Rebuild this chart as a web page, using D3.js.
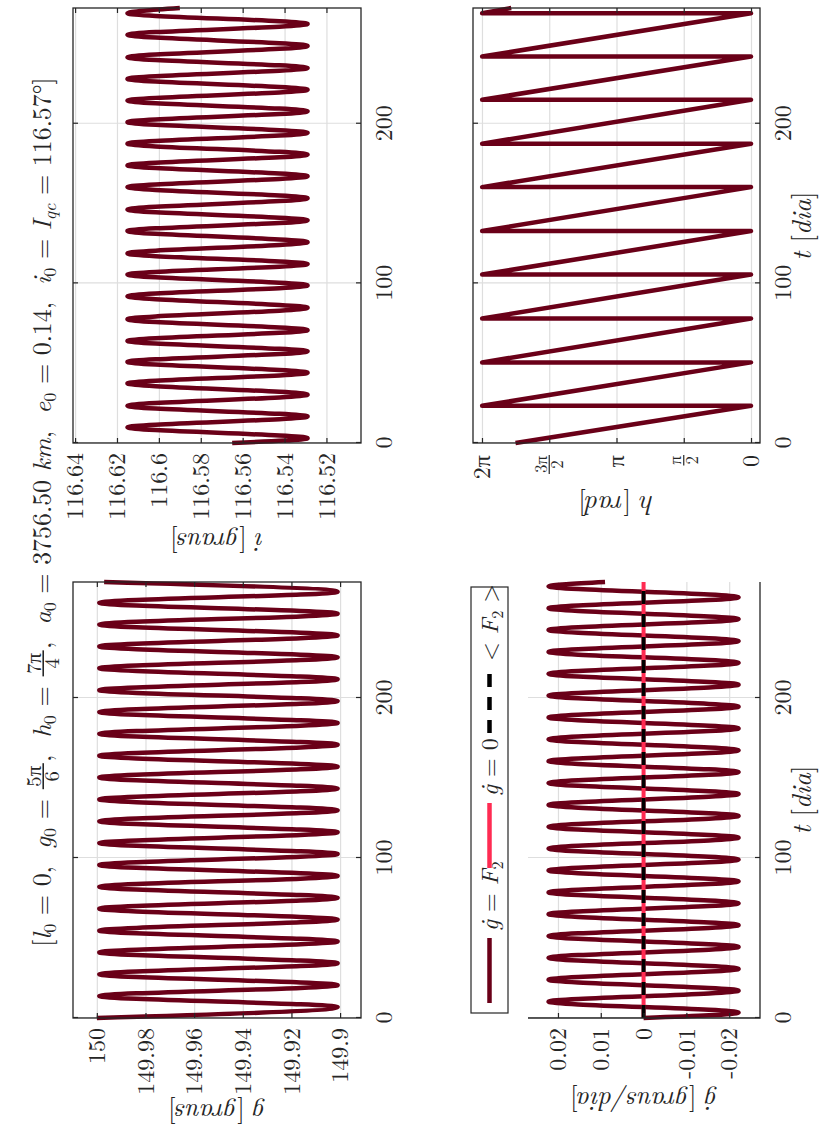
<!DOCTYPE html>
<html>
<head>
<meta charset="utf-8">
<script src="https://cdn.jsdelivr.net/npm/d3@7.9.0/dist/d3.min.js"></script>
<style>
  body { margin: 0; background: #fff; }
  svg { display: block; }
</style>
</head>
<body>
<svg id="chart" width="830" height="1133"></svg>
<script>
// The figure is laid out landscape (1133 x 830) and then turned a quarter turn
// counter-clockwise, the way the original page was saved.

// ---- time axis ----
const tDomain = [0, 272.5];
const tTicks = [0, 100, 200];

// ---- g [graus] : turning points ----
const gT = [0, 6.8, 13.7, 20.5, 27.3, 34.2, 41.0, 47.8, 54.6, 61.5,
  68.3, 75.1, 82.0, 88.8, 95.6, 102.5, 109.3, 116.1, 122.9, 129.8,
  136.6, 143.4, 150.3, 157.1, 163.9, 170.8, 177.6, 184.4, 191.2, 198.1,
  204.9, 211.7, 218.6, 225.4, 232.2, 239.1, 245.9, 252.7, 259.5, 266.4, 272.5];
const gV = [150.0, 149.901, 149.999, 149.901, 149.999, 149.901, 149.999, 149.901, 149.999, 149.901,
  149.999, 149.901, 149.999, 149.901, 149.999, 149.901, 149.999, 149.901, 149.999, 149.901,
  149.999, 149.901, 149.999, 149.901, 149.999, 149.901, 149.999, 149.901, 149.999, 149.901,
  149.999, 149.901, 149.999, 149.901, 149.999, 149.901, 149.999, 149.901, 149.999, 149.901, 149.997];
const gDomain = [149.8914, 150.0098];
const gTicks = [149.9, 149.92, 149.94, 149.96, 149.98, 150];
const gTickLabels = ["149.9", "149.92", "149.94", "149.96", "149.98", "150"];

// ---- i [graus] ----
const iT = [0, 3.0, 9.8, 16.6, 23.3, 30.3, 37.3, 44.0, 50.8, 57.4,
  63.9, 70.7, 77.5, 84.7, 91.9, 98.7, 105.5, 112.1, 118.7, 125.8,
  132.8, 139.5, 146.2, 153.3, 160.3, 167.1, 173.9, 180.7, 187.5, 194.3,
  201.0, 207.8, 214.5, 221.3, 228.1, 234.9, 241.6, 248.7, 255.7, 262.5, 269.2, 272.5];
const iV = [116.565, 116.529, 116.615, 116.529, 116.615, 116.529, 116.615, 116.529, 116.615, 116.529,
  116.615, 116.529, 116.615, 116.529, 116.615, 116.529, 116.615, 116.529, 116.615, 116.529,
  116.615, 116.529, 116.615, 116.529, 116.615, 116.529, 116.615, 116.529, 116.615, 116.529,
  116.615, 116.529, 116.615, 116.529, 116.615, 116.529, 116.615, 116.529, 116.615, 116.529, 116.615, 116.59];
const iDomain = [116.5035, 116.641];
const iTicks = [116.52, 116.54, 116.56, 116.58, 116.6, 116.62, 116.64];
const iTickLabels = ["116.52", "116.54", "116.56", "116.58", "116.6", "116.62", "116.64"];

// ---- g-dot [graus/dia] ----
const gdT = [0, 3.4, 10.2, 17.1, 23.9, 30.7, 37.6, 44.4, 51.2, 58.0,
  64.9, 71.7, 78.5, 85.4, 92.2, 99.0, 105.9, 112.7, 119.5, 126.3,
  133.2, 140.0, 146.8, 153.7, 160.5, 167.3, 174.2, 181.0, 187.8, 194.6,
  201.5, 208.3, 215.1, 222.0, 228.8, 235.6, 242.5, 249.3, 256.1, 262.9, 269.8, 272.5];
const gdV = [0, -0.0222, 0.0222, -0.0222, 0.0222, -0.0222, 0.0222, -0.0222, 0.0222, -0.0222,
  0.0222, -0.0222, 0.0222, -0.0222, 0.0222, -0.0222, 0.0222, -0.0222, 0.0222, -0.0222,
  0.0222, -0.0222, 0.0222, -0.0222, 0.0222, -0.0222, 0.0222, -0.0222, 0.0222, -0.0222,
  0.0222, -0.0222, 0.0222, -0.0222, 0.0222, -0.0222, 0.0222, -0.0222, 0.0222, -0.0222, 0.0222, 0.009];
const zeroT = [0, 272.5];
const zeroV = [0, 0];
const meanF2V = [0, 0];
const gdDomain = [-0.0272, 0.0270];
const gdTicks = [-0.02, -0.01, 0, 0.01, 0.02];
const gdTickLabels = ["-0.02", "-0.01", "0", "0.01", "0.02"];

// ---- h [rad] (wraps at 0 -> 2pi) ----
const hT = [0, 23.3, 23.3, 50.5, 50.5, 78.0, 78.0, 105.5, 105.5, 132.8, 132.8,
  160.3, 160.3, 187.5, 187.5, 215.0, 215.0, 242.1, 242.1, 269.2, 269.2, 272.5];
const hV = [5.50, 0, 6.28, 0, 6.28, 0, 6.28, 0, 6.28, 0, 6.28,
  0, 6.28, 0, 6.28, 0, 6.28, 0, 6.28, 0, 6.28, 5.6];
const hDomain = [-0.21, 6.493];
const hTicks = [0, 1.5708, 3.1416, 4.7124, 6.2832];
const hTickLabels = ["0", "π/2", "π", "3π/2", "2π"];

// ---- styling ----
const FONT = '"Latin Modern Roman", "Liberation Serif", serif';
const C_CURVE = "#6a0018";
const C_ZERO = "#ff2b52";
const C_AXIS = "#262626";
const C_GRID = "#dedede";
const TICK_FS = 24;
const LABEL_FS = 27;

const svg = d3.select("#chart");
const fig = svg.append("g")
  .attr("transform", "translate(0,1133) rotate(-90)")
  .style("font-family", FONT)
  .style("fill", C_AXIS);

const layout = {
  g:  { left: 115, right: 551, top: 73,  bottom: 361, box: true },
  i:  { left: 690, right: 1125, top: 73, bottom: 361, box: true },
  gd: { left: 115, right: 551, top: 528, bottom: 760, box: false },
  h:  { left: 690, right: 1125, top: 473, bottom: 760, box: true },
};

function makePanel(L, yDomain, yTicks) {
  const x = d3.scaleLinear().domain(tDomain).range([L.left, L.right]);
  const y = d3.scaleLinear().domain(yDomain).range([L.bottom, L.top]);
  const w = L.right - L.left, h = L.bottom - L.top;
  const g = fig.append("g");

  g.append("g").attr("class", "grid").attr("transform", `translate(0,${L.bottom})`)
    .call(d3.axisBottom(x).tickValues(tTicks).tickSize(-h).tickFormat(""))
    .call((s) => s.select(".domain").remove());
  g.append("g").attr("class", "grid").attr("transform", `translate(${L.left},0)`)
    .call(d3.axisLeft(y).tickValues(yTicks).tickSize(-w).tickFormat(""))
    .call((s) => s.select(".domain").remove());
  g.selectAll(".grid line").attr("stroke", C_GRID).attr("stroke-width", 1.2);

  const plot = g.append("g");
  const axes = g.append("g").style("color", C_AXIS);
  return { x, y, plot, axes, L, yTicks };
}

function finishAxes(P, yFormat) {
  const { x, y, axes, L } = P;
  const fix = (s) => {
    s.attr("font-size", TICK_FS).attr("font-family", null).style("font-family", FONT);
    s.select(".domain").remove();
    s.selectAll(".tick line").attr("stroke-width", 1.2);
  };
  axes.append("g").attr("transform", `translate(0,${L.bottom})`)
    .call(d3.axisBottom(x).tickValues(tTicks).tickSizeInner(-5).tickSizeOuter(0)
      .tickPadding(14).tickFormat(d3.format("d")))
    .call(fix);
  axes.append("g").attr("transform", `translate(${L.left},0)`)
    .call(d3.axisLeft(y).tickValues(P.yTicks).tickSizeInner(-5).tickSizeOuter(0)
      .tickPadding(10).tickFormat(yFormat))
    .call(fix);

  if (L.box) {
    axes.append("g").attr("transform", `translate(0,${L.top})`)
      .call(d3.axisTop(x).tickValues(tTicks).tickSizeInner(-5).tickSizeOuter(0).tickFormat(""))
      .call(fix);
    axes.append("g").attr("transform", `translate(${L.right},0)`)
      .call(d3.axisRight(y).tickValues(P.yTicks).tickSizeInner(-5).tickSizeOuter(0).tickFormat(""))
      .call(fix);
    axes.append("rect")
      .attr("x", L.left).attr("y", L.top)
      .attr("width", L.right - L.left).attr("height", L.bottom - L.top)
      .attr("fill", "none").attr("stroke", C_AXIS).attr("stroke-width", 1.3);
  } else {
    axes.append("path")
      .attr("d", `M${L.left},${L.top}V${L.bottom}H${L.right}`)
      .attr("fill", "none").attr("stroke", C_AXIS).attr("stroke-width", 1.3);
  }
}

function drawSeries(P, ts, vs, color, opts = {}) {
  const line = d3.line()
    .x((d) => P.x(d[0]))
    .y((d) => P.y(d[1]))
    .curve(opts.linear ? d3.curveLinear : d3.curveMonotoneX);
  P.plot.append("path")
    .datum(d3.zip(ts, vs))
    .attr("d", line)
    .attr("fill", "none")
    .attr("stroke", color)
    .attr("stroke-width", opts.width || 4.5)
    .attr("stroke-linejoin", "round")
    .attr("stroke-dasharray", opts.dash || null);
}

// rotated y label / horizontal x label made of [text, italic] pieces
function label(x, y, parts, rotate) {
  const t = fig.append("text")
    .attr("transform", `translate(${x},${y})${rotate ? " rotate(-90)" : ""}`)
    .attr("text-anchor", "middle")
    .attr("font-size", LABEL_FS)
    .style("white-space", "pre");
  parts.forEach(([s, it]) => t.append("tspan").attr("font-style", it ? "italic" : "normal").text(s));
}

// ---- panels ----
const pG = makePanel(layout.g, gDomain, gTicks);
drawSeries(pG, gT, gV, C_CURVE);
finishAxes(pG, (d, i) => gTickLabels[i]);

const pI = makePanel(layout.i, iDomain, iTicks);
drawSeries(pI, iT, iV, C_CURVE);
finishAxes(pI, (d, i) => iTickLabels[i]);

const pGd = makePanel(layout.gd, gdDomain, gdTicks);
drawSeries(pGd, gdT, gdV, C_CURVE);
drawSeries(pGd, zeroT, zeroV, C_ZERO, { linear: true, width: 4 });
drawSeries(pGd, zeroT, meanF2V, "#000", { linear: true, width: 4, dash: "13,10" });
finishAxes(pGd, (d, i) => gdTickLabels[i]);

const pH = makePanel(layout.h, hDomain, hTicks);
drawSeries(pH, hT, hV, C_CURVE, { linear: true });
finishAxes(pH, "");

// h tick labels: plain or small stacked fractions
hTicks.forEach((v, i) => {
  const lab = hTickLabels[i];
  const yy = pH.y(v);
  const xr = layout.h.left - 12;
  if (lab.includes("/")) {
    const [num, den] = lab.split("/");
    const f = 17;
    const n = fig.append("text").attr("font-size", f).attr("text-anchor", "middle").text(num);
    const d = fig.append("text").attr("font-size", f).attr("text-anchor", "middle").text(den);
    const w = Math.max(n.node().getComputedTextLength(), d.node().getComputedTextLength()) + 2;
    n.attr("x", xr - w / 2).attr("y", yy - 2.5);
    d.attr("x", xr - w / 2).attr("y", yy + 14);
    fig.append("line").attr("x1", xr - w).attr("x2", xr).attr("y1", yy).attr("y2", yy)
      .attr("stroke", C_AXIS).attr("stroke-width", 1.2);
  } else {
    fig.append("text").attr("x", xr).attr("y", yy + 8).attr("text-anchor", "end")
      .attr("font-size", TICK_FS).text(lab);
  }
});

// ---- axis labels ----
label(29, 217, [["g", 1], [" [", 0], ["graus", 1], ["]", 0]], true);
label(600, 217, [["i", 1], [" [", 0], ["graus", 1], ["]", 0]], true);
label(41, 644, [["ġ", 1], [" [", 0], ["graus/dia", 1], ["]", 0]], true);
label(637, 616, [["h", 1], [" [", 0], ["rad", 1], ["]", 0]], true);
label(333, 811, [["t", 1], [" [", 0], ["dia", 1], ["]", 0]], false);
label(907, 811, [["t", 1], [" [", 0], ["dia", 1], ["]", 0]], false);

// ---- legend (above the g-dot panel) ----
const legendItems = [
  { parts: [["ġ", 1], [" = ", 0], ["F", 1], ["2", 0, 1]], color: C_CURVE, dash: null },
  { parts: [["ġ", 1], [" = 0", 0]], color: C_ZERO, dash: null },
  { parts: [["< ", 0], ["F", 1], ["2", 0, 1], [" >", 0]], color: "#000", dash: "13,10" },
];
const leg = fig.append("g");
leg.append("rect").attr("x", 120).attr("y", 471).attr("width", 426).attr("height", 37)
  .attr("fill", "#fff").attr("stroke", C_AXIS).attr("stroke-width", 1.2);
legendItems.forEach((it, k) => {
  const x0 = 130 + k * 135;
  leg.append("line").attr("x1", x0).attr("x2", x0 + 65).attr("y1", 489.5).attr("y2", 489.5)
    .attr("stroke", it.color).attr("stroke-width", 4.5).attr("stroke-dasharray", it.dash);
  const t = leg.append("text").attr("x", x0 + 72).attr("y", 497.5).attr("font-size", TICK_FS)
    .style("white-space", "pre");
  let shifted = false;
  it.parts.forEach(([s, ital, sub]) => {
    const sp = t.append("tspan").attr("font-style", ital ? "italic" : "normal").text(s);
    if (sub) { sp.attr("font-size", 16).attr("dy", 5); shifted = true; }
    else if (shifted) { sp.attr("dy", -5); shifted = false; }
  });
});

// ---- title ----
const titleParts = [
  { s: "[" }, { s: "l", it: 1 }, { s: "0", sub: 1 }, { s: " = 0,  " },
  { s: "g", it: 1 }, { s: "0", sub: 1 }, { s: " = " }, { frac: ["5π", "6"] }, { s: ",  " },
  { s: "h", it: 1 }, { s: "0", sub: 1 }, { s: " = " }, { frac: ["7π", "4"] }, { s: ",  " },
  { s: "a", it: 1 }, { s: "0", sub: 1 }, { s: " = 3756.50 " }, { s: "km", it: 1 }, { s: ",  " },
  { s: "e", it: 1 }, { s: "0", sub: 1 }, { s: " = 0.14,  " },
  { s: "i", it: 1 }, { s: "0", sub: 1 }, { s: " = " }, { s: "I", it: 1 }, { s: "qc", it: 1, sub: 1 },
  { s: " = 116.57°]" },
];

function layoutTitle(fs) {
  const grp = fig.append("g");
  let cx = 0;
  titleParts.forEach((p) => {
    if (p.frac) {
      const f = fs * 0.8;
      const n = grp.append("text").attr("font-size", f).attr("text-anchor", "middle").text(p.frac[0]);
      const d = grp.append("text").attr("font-size", f).attr("text-anchor", "middle").text(p.frac[1]);
      const w = Math.max(n.node().getComputedTextLength(), d.node().getComputedTextLength()) + f * 0.25;
      const bar = -fs * 0.3;
      n.attr("x", cx + w / 2 + fs * 0.05).attr("y", bar - f * 0.12);
      d.attr("x", cx + w / 2 + fs * 0.05).attr("y", bar + f * 0.78);
      grp.append("line").attr("x1", cx + fs * 0.05).attr("x2", cx + w + fs * 0.05)
        .attr("y1", bar).attr("y2", bar).attr("stroke", C_AXIS).attr("stroke-width", 1.6);
      cx += w + fs * 0.1;
    } else {
      const f = p.sub ? fs * 0.7 : fs;
      const t = grp.append("text").attr("x", cx).attr("y", p.sub ? fs * 0.2 : 0)
        .attr("font-size", f).attr("font-style", p.it ? "italic" : "normal")
        .style("white-space", "pre").text(p.s);
      cx += t.node().getComputedTextLength();
    }
  });
  return { grp, width: cx };
}

const probe = layoutTitle(30);
const titleFs = Math.min(32, 30 * 870 / probe.width);
probe.grp.remove();
const title = layoutTitle(titleFs);
title.grp.attr("transform", `translate(${621 - title.width / 2},51)`);
</script>
</body>
</html>
